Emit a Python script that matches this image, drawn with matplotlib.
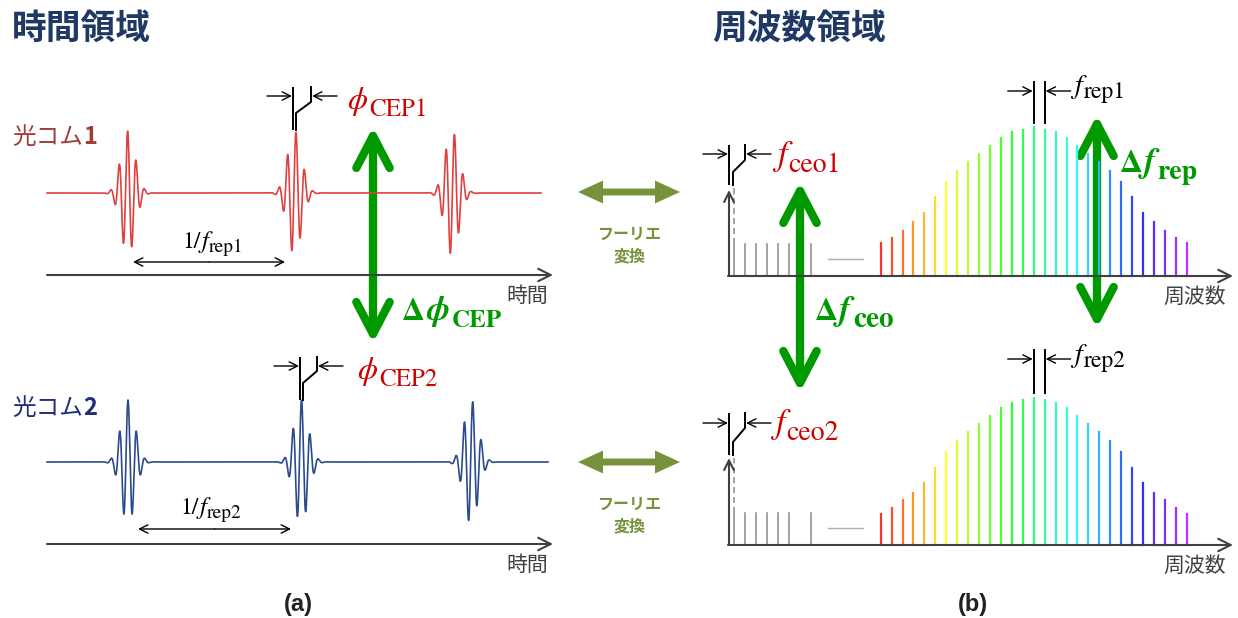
import numpy as np
import matplotlib
matplotlib.use('Agg')
import matplotlib.pyplot as plt
from matplotlib.patches import FancyArrowPatch

CJK = ['Noto Sans CJK JP', 'DejaVu Sans']
SER = ['STIXGeneral', 'DejaVu Serif']

# ---------------- data ----------------
titles = ['時間領域', '周波数領域']
comb_name = '光コム'
comb_nums = ['1', '2']
time_label = '時間'
freq_label = '周波数'
ft_label = 'フーリエ\n変換'
panel_labels = ['(a)', '(b)']

pulse_centers_1 = [128, 294.5, 452]
pulse_phases_1 = [0.3, -1.1, -1.85]
pulse_centers_2 = [128, 301, 471]
pulse_phases_2 = [0.0, -0.4, -1.3]

period_subs = ['rep1', 'rep2']
cep_subs = ['CEP1', 'CEP2']
ceo_subs = ['ceo1', 'ceo2']
rep_subs = ['rep1', 'rep2']
delta_subs = ['CEP', 'ceo', 'rep']
PHI = '\u03d5'
DELTA = '\u0394'

comb1_heights = [33, 38, 45, 54, 63, 79, 94, 105, 114, 122, 130, 138, 144, 146, 149,
                 146, 144, 138, 130, 122, 114, 105, 94, 79, 63, 54, 45, 38, 33]
comb2_heights = [31, 37, 45, 52, 62, 77, 93, 104, 113, 121, 129, 137, 142, 145, 147,
                 145, 142, 137, 129, 121, 113, 104, 93, 77, 62, 52, 45, 37, 31]
low_comb_index = [0, 1, 2, 3, 4, 5, 7]
low_comb_heights = [32, 32, 32, 32, 32, 32, 32]

# ---------------- style ----------------
GREEN = '#009A00'
OLIVE = '#76923C'
RED_T = '#D00000'
RED_W = '#E04040'
BLUE_W = '#2B4B8C'
AXC = '#404040'

fig = plt.figure(figsize=(12.38, 6.18), dpi=100)
ax = fig.add_axes([0, 0, 1, 1])
ax.set_xlim(0, 1238)
ax.set_ylim(618, 0)
ax.axis('off')
renderer = fig.canvas.get_renderer()


def pieces(x, y, parts, color):
    """parts: list of (text, size, weight, style, dy, family, kern)"""
    for s, size, weight, style, dy, fam, kern in parts:
        t = ax.text(x, y + dy, s, fontsize=size, fontweight=weight, fontstyle=style,
                    family=fam, color=color, ha='left', va='baseline')
        bb = t.get_window_extent(renderer)
        x = x + bb.width + kern


def arrow(p_from, p_to, lw=1.0, color='k', hl=0.6, hw=0.3, style='->'):
    ax.annotate('', xy=p_to, xytext=p_from,
                arrowprops=dict(arrowstyle=f'{style},head_length={hl},head_width={hw}',
                                lw=lw, color=color, shrinkA=0, shrinkB=0))


def big_arrow(x, y0, y1):
    a = FancyArrowPatch((x, y0), (x, y1), arrowstyle='<->,head_length=23,head_width=12',
                        mutation_scale=1, lw=6, color=GREEN, capstyle='round',
                        joinstyle='round', shrinkA=0, shrinkB=0)
    ax.add_patch(a)


def olive_arrow(x0, x1, y):
    xm = (x0 + x1) / 2
    for xe in (x0, x1):
        a = FancyArrowPatch((xm, y), (xe, y),
                            arrowstyle='simple,head_length=18,head_width=16.5,tail_width=5',
                            mutation_scale=1, color=OLIVE, lw=0, shrinkA=0, shrinkB=0)
        ax.add_patch(a)


def kink_marker(xl, xr, ytop, ybot, ylo, yhi, yarr, dx=3):
    ax.plot([xl, xl], [ytop, ybot], color='k', lw=1.4, solid_capstyle='butt')
    ax.plot([xl + dx, xl + dx, xr, xr], [ybot, ylo, yhi, ytop], color='k', lw=1.4)
    arrow((xl - 26, yarr), (xl - 1, yarr))
    arrow((xr + 26, yarr), (xr + 1, yarr))


def green_label(x, y, sym, sub, subsize=20):
    pieces(x, y, [(DELTA, 23, 'bold', 'normal', 0, SER, 1),
                  (sym, 25, 'bold', 'italic', 0, SER, 2),
                  (sub, subsize, 'bold', 'normal', 7, SER, 0)], GREEN)


# ---------------- titles ----------------
ax.text(12, 28, titles[0], fontsize=25, fontweight='bold', color='#1F3864',
        family=CJK, ha='left', va='center')
ax.text(712, 28, titles[1], fontsize=25, fontweight='bold', color='#1F3864',
        family=CJK, ha='left', va='center')

# ---------------- time domain ----------------
P = 8.5
SIG = 10.0
AMP = 62.0
rows_t = [
    dict(base=193, axis=275, xend=541, centers=pulse_centers_1, phases=pulse_phases_1,
         color=RED_W, name_y=144, name_color='#A33B3B', per=(133, 285, 262, 182, 248)),
    dict(base=462, axis=544, xend=548, centers=pulse_centers_2, phases=pulse_phases_2,
         color=BLUE_W, name_y=415, name_color='#1F2D7A', per=(138, 291, 529, 180, 514)),
]
for i, r in enumerate(rows_t):
    x = np.linspace(47, r['xend'], 4000)
    y = np.full_like(x, float(r['base']))
    for c, ph in zip(r['centers'], r['phases']):
        y -= AMP * np.exp(-((x - c) / SIG) ** 2) * np.cos(2 * np.pi * (x - c) / P + ph)
    ax.plot(x, y, color=r['color'], lw=1.2)
    # axis
    arrow((47, r['axis']), (553, r['axis']), lw=1.5, color=AXC, hl=0.9, hw=0.45)
    ax.text(527, r['axis'] + 21, time_label, fontsize=15, color=AXC, family=CJK,
            ha='center', va='center')
    # name
    pieces(12, r['name_y'], [(comb_name, 17, 'normal', 'normal', 0, CJK, 0),
                             (comb_nums[i], 17, 'bold', 'normal', 0, CJK, 0)],
           r['name_color'])
    # period arrow
    x0, x1, ya, xl, yl = r['per']
    arrow((x0 + (x1 - x0) / 2, ya), (x0, ya), lw=1.0)
    arrow((x0 + (x1 - x0) / 2, ya), (x1, ya), lw=1.0)
    pieces(xl, yl, [('1/', 17, 'normal', 'normal', 0, SER, 1),
                    ('f', 18, 'normal', 'italic', 0, SER, 1),
                    (period_subs[i], 14, 'normal', 'normal', 4, SER, 0)], 'k')

# CEP markers
kink_marker(293, 311, 87, 130, 113, 102, 96)
kink_marker(300, 317, 357, 400, 383, 371, 366)
pieces(347, 109, [(PHI, 23, 'normal', 'italic', 0, SER, 2),
                  (cep_subs[0], 18, 'normal', 'normal', 7, SER, 0)], RED_T)
pieces(357, 379, [(PHI, 23, 'normal', 'italic', 0, SER, 2),
                  (cep_subs[1], 18, 'normal', 'normal', 7, SER, 0)], RED_T)

big_arrow(373, 127, 343)
green_label(402, 320, PHI, delta_subs[0], subsize=18)

# ---------------- Fourier arrows ----------------
for yb in (192, 462):
    olive_arrow(578, 680, yb)
    ax.text(630, yb + 53, ft_label, fontsize=11.5, fontweight='bold', color=OLIVE,
            family=CJK, ha='center', va='center', linespacing=1.5)

# ---------------- frequency domain ----------------
COMB_X0 = 880.7
COMB_DX = 10.93
LOW_X0 = 734
LOW_DX = 11
colors = plt.cm.gist_rainbow(np.linspace(0.03, 0.90, len(comb1_heights)))
colors = 0.82 * colors[:, :3] + 0.18

rows_f = [
    dict(base=276, heights=comb1_heights, vtip=190, dash_top=188,
         kink=(729, 745, 145, 185, 172, 160, 154), ceo_xy=(777, 165),
         rep=(82, 123, 91), rep_xy=(1074, 93)),
    dict(base=545, heights=comb2_heights, vtip=458, dash_top=458,
         kink=(729, 745, 413, 455, 442, 428, 423), ceo_xy=(775, 433),
         rep=(350, 393, 359), rep_xy=(1074, 362)),
]
for i, r in enumerate(rows_f):
    b = r['base']
    # axes
    arrow((728, b), (1233, b), lw=1.5, color=AXC, hl=0.9, hw=0.45)
    arrow((729, b), (729, r['vtip']), lw=1.5, color=AXC, hl=0.7, hw=0.35)
    ax.text(1195, b + 21, freq_label, fontsize=15, color=AXC, family=CJK,
            ha='center', va='center')
    # low gray comb
    for k, h in zip(low_comb_index, low_comb_heights):
        xx = LOW_X0 + k * LOW_DX
        ax.plot([xx, xx], [b, b - h], color='#8A8A8A', lw=1.1)
    ax.plot([LOW_X0, LOW_X0], [b - low_comb_heights[0], r['dash_top']], color='#8A8A8A',
            lw=1.1, ls=(0, (4, 2.5)))
    ax.plot([828, 863], [b - 17, b - 17], color='#B0B0B0', lw=1.0)
    # colored comb
    for k, h in enumerate(r['heights']):
        xx = COMB_X0 + k * COMB_DX
        ax.plot([xx, xx], [b, b - h], color=colors[k], lw=1.6)
    # ceo marker
    kink_marker(*r['kink'], dx=4)
    cx, cy = r['ceo_xy']
    pieces(cx, cy, [('f', 25, 'normal', 'italic', 0, SER, 2),
                    (ceo_subs[i], 20, 'normal', 'normal', 7, SER, 0)], RED_T)
    # rep marker
    xa = COMB_X0 + 14 * COMB_DX
    xb = COMB_X0 + 15 * COMB_DX
    yt, ybm, yar = r['rep']
    ax.plot([xa, xa], [yt, ybm], color='k', lw=1.4)
    ax.plot([xb, xb], [yt, ybm], color='k', lw=1.4)
    arrow((xa - 26, yar), (xa - 1, yar))
    arrow((xb + 26, yar), (xb + 1, yar))
    rx, ry = r['rep_xy']
    pieces(rx, ry, [('f', 20, 'normal', 'italic', 0, SER, 2),
                    (rep_subs[i], 17, 'normal', 'normal', 5, SER, 0)], 'k')

big_arrow(800, 182, 392)
green_label(815, 320, 'f', delta_subs[1], subsize=21)
big_arrow(1097, 115, 328)
green_label(1120, 172, 'f', delta_subs[2], subsize=20)

# ---------------- panel labels ----------------
for txt, xx in zip(panel_labels, (298, 973)):
    ax.text(xx, 604, txt, fontsize=17, fontweight='bold', color='#222222',
            family=['Liberation Sans Narrow', 'Liberation Sans', 'DejaVu Sans'],
            ha='center', va='center')

fig.savefig('out.png', dpi=100)
